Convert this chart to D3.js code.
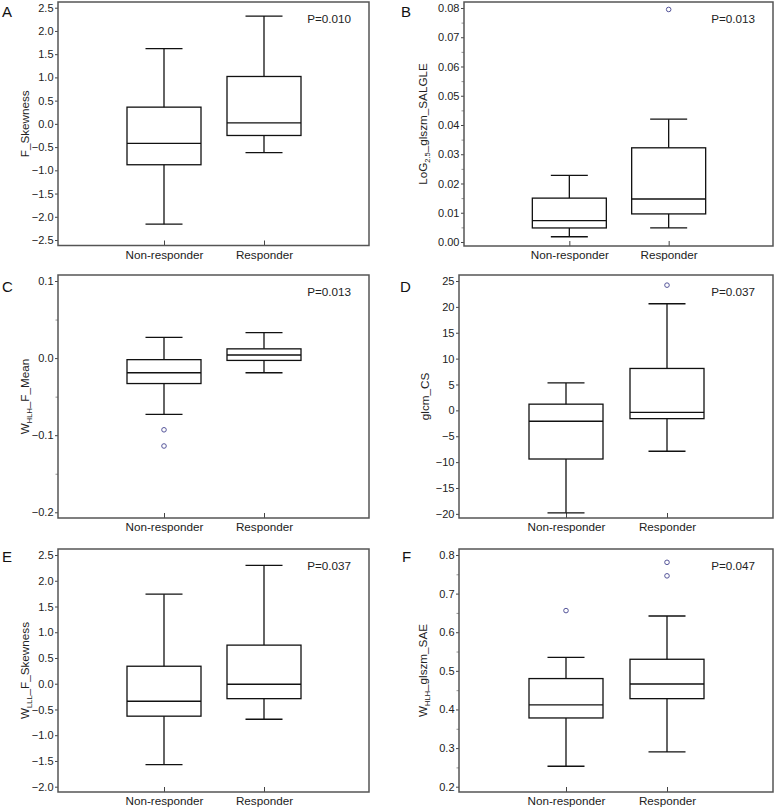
<!DOCTYPE html>
<html><head><meta charset="utf-8">
<script src="https://cdn.jsdelivr.net/npm/d3@7"></script>
<style>body{margin:0;background:#fff}svg{display:block}</style>
</head><body>
<svg id="chart" width="775" height="809"></svg>
<script>
// ---- data ----
const categories = ["Non-responder", "Responder"];
const panelLetters = ["A", "B", "C", "D", "E", "F"];
const pLabels = ["P=0.010", "P=0.013", "P=0.013", "P=0.037", "P=0.037", "P=0.047"];
// y-axis titles: [prefix, subscript, suffix]
const yTitleA = ["F_Skewness", "", ""];
const yTitleB = ["LoG", "2.5", "_glszm_SALGLE"];
const yTitleC = ["W", "HLH", "_F_Mean"];
const yTitleD = ["glcm_CS", "", ""];
const yTitleE = ["W", "LLL", "_F_Skewness"];
const yTitleF = ["W", "HLH", "_glszm_SAE"];
// box stats per category: [lower whisker, Q1, median, Q3, upper whisker]
const statsA = [[-2.16, -0.88, -0.42, 0.36, 1.62], [-0.62, -0.25, 0.02, 1.02, 2.32]];
const statsB = [[0.0018, 0.0048, 0.0073, 0.0150, 0.0228], [0.0048, 0.0096, 0.0147, 0.0322, 0.0420]];
const statsC = [[-0.073, -0.033, -0.019, -0.002, 0.027], [-0.019, -0.003, 0.004, 0.012, 0.033]];
const statsD = [[-19.8, -9.4, -2.1, 1.2, 5.3], [-7.9, -1.6, -0.4, 8.1, 20.6]];
const statsE = [[-1.57, -0.63, -0.34, 0.34, 1.74], [-0.69, -0.29, -0.01, 0.75, 2.30]];
const statsF = [[0.253, 0.378, 0.412, 0.480, 0.535], [0.290, 0.428, 0.466, 0.530, 0.642]];
// outliers per category
const outA = [[], []];
const outB = [[], [0.0795]];
const outC = [[-0.093, -0.114], []];
const outD = [[], [24.2]];
const outE = [[], []];
const outF = [[0.656], [0.746, 0.781]];
// ticks
const ticksA = [-2.5, -2.0, -1.5, -1.0, -0.5, 0.0, 0.5, 1.0, 1.5, 2.0, 2.5];
const ticksB = [0.00, 0.01, 0.02, 0.03, 0.04, 0.05, 0.06, 0.07, 0.08];
const minorB = [0.005, 0.015, 0.025, 0.035, 0.045, 0.055, 0.065, 0.075];
const ticksC = [-0.2, -0.1, 0.0, 0.1];
const minorC = [-0.15, -0.05, 0.05];
const ticksD = [-20, -15, -10, -5, 0, 5, 10, 15, 20, 25];
const ticksE = [-2.0, -1.5, -1.0, -0.5, 0.0, 0.5, 1.0, 1.5, 2.0, 2.5];
const ticksF = [0.2, 0.3, 0.4, 0.5, 0.6, 0.7, 0.8];
const minorF = [0.25, 0.35, 0.45, 0.55, 0.65, 0.75];

// ---- layout (positions/styles) ----
const panels = [
  {frame: [58, 369, 2, 245.5], domain: [-2.618, 2.623], fmt: ".1f", stats: statsA, out: outA, ticks: ticksA, minor: [], title: yTitleA, titleX: 28.5, letterPos: [2, 17]},
  {frame: [464, 773, 2, 246], domain: [-0.00137, 0.08205], fmt: ".2f", stats: statsB, out: outB, ticks: ticksB, minor: minorB, title: yTitleB, titleX: 427, letterPos: [401, 17]},
  {frame: [58, 369, 275, 518], domain: [-0.2074, 0.1078], fmt: ".1f", stats: statsC, out: outC, ticks: ticksC, minor: minorC, title: yTitleC, titleX: 29, letterPos: [2, 292]},
  {frame: [459, 773, 275, 518], domain: [-20.8, 26.16], fmt: "d", stats: statsD, out: outD, ticks: ticksD, minor: [], title: yTitleD, titleX: 429, letterPos: [400, 292]},
  {frame: [58, 369, 549, 792], domain: [-2.103, 2.617], fmt: ".1f", stats: statsE, out: outE, ticks: ticksE, minor: [], title: yTitleE, titleX: 28.5, letterPos: [2, 562]},
  {frame: [459, 773, 549, 792], domain: [0.1863, 0.8155], fmt: ".1f", stats: statsF, out: outF, ticks: ticksF, minor: minorF, title: yTitleF, titleX: 427, letterPos: [402, 562]}
];

const FONT = "'Liberation Sans', Arial, Helvetica, sans-serif";
const svg = d3.select("#chart");

panels.forEach((p, i) => {
  const [x0, x1, y0, y1] = p.frame;
  const y = d3.scaleLinear().domain(p.domain).range([y1, y0]);
  const x = d3.scalePoint().domain(categories).range([x0 + 6, x1 - 5]).padding(1);
  const g = svg.append("g");

  // y axis
  const yAxis = d3.axisLeft(y).tickValues(p.ticks).tickFormat(d3.format(p.fmt)).tickSize(3).tickPadding(1.5);
  const ya = g.append("g").attr("transform", `translate(${x0},0)`).call(yAxis);
  ya.select(".domain").remove();
  ya.selectAll(".tick line").attr("stroke", "#444").attr("stroke-width", 1);
  ya.selectAll(".tick text").attr("font-family", FONT).attr("font-size", "11px").attr("fill", "#222");
  if (p.minor.length) {
    const ym = d3.axisLeft(y).tickValues(p.minor).tickFormat("").tickSize(2.5);
    const yma = g.append("g").attr("transform", `translate(${x0},0)`).call(ym);
    yma.select(".domain").remove();
    yma.selectAll(".tick line").attr("stroke", "#777").attr("stroke-width", 0.8);
  }

  // x axis: inward ticks and labels
  const xAxis = d3.axisBottom(x).tickSize(-5).tickPadding(5);
  const xa = g.append("g").attr("transform", `translate(0,${y1})`).call(xAxis);
  xa.select(".domain").remove();
  xa.selectAll(".tick line").attr("stroke", "#444").attr("stroke-width", 1);
  xa.selectAll(".tick text").attr("font-family", FONT).attr("font-size", "11.7px").attr("fill", "#222");

  // boxes
  const bw = 74, cw = 37;
  categories.forEach((c, j) => {
    const [lo, q1, md, q3, hi] = p.stats[j];
    const cx = x(c);
    const bg = g.append("g").attr("stroke", "#111").attr("stroke-width", 1.3).attr("fill", "none");
    bg.append("line").attr("x1", cx).attr("x2", cx).attr("y1", y(hi)).attr("y2", y(q3));
    bg.append("line").attr("x1", cx).attr("x2", cx).attr("y1", y(q1)).attr("y2", y(lo));
    bg.append("line").attr("x1", cx - cw / 2).attr("x2", cx + cw / 2).attr("y1", y(hi)).attr("y2", y(hi));
    bg.append("line").attr("x1", cx - cw / 2).attr("x2", cx + cw / 2).attr("y1", y(lo)).attr("y2", y(lo));
    bg.append("rect").attr("x", cx - bw / 2).attr("width", bw).attr("y", y(q3)).attr("height", y(q1) - y(q3));
    bg.append("line").attr("x1", cx - bw / 2).attr("x2", cx + bw / 2).attr("y1", y(md)).attr("y2", y(md));
    g.selectAll(null).data(p.out[j]).enter().append("circle")
      .attr("cx", cx).attr("cy", d => y(d)).attr("r", 2.3)
      .attr("fill", "none").attr("stroke", "#55559a").attr("stroke-width", 1);
  });

  // frame
  g.append("rect").attr("x", x0).attr("y", y0).attr("width", x1 - x0).attr("height", y1 - y0)
    .attr("fill", "none").attr("stroke", "#555").attr("stroke-width", 1.5);

  // P value
  g.append("text").attr("x", x1 - 18).attr("y", y0 + 21).attr("text-anchor", "end")
    .attr("font-family", FONT).attr("font-size", "11.7px").attr("fill", "#222").text(pLabels[i]);

  // panel letter
  g.append("text").attr("x", p.letterPos[0]).attr("y", p.letterPos[1])
    .attr("font-family", FONT).attr("font-size", "15px").attr("fill", "#111").text(panelLetters[i]);

  // y title
  const cy = (y0 + y1) / 2;
  const t = g.append("text").attr("transform", `translate(${p.titleX},${cy}) rotate(-90)`)
    .attr("text-anchor", "middle").attr("font-family", FONT).attr("font-size", "11.7px").attr("fill", "#222");
  t.append("tspan").text(p.title[0]);
  if (p.title[1]) {
    t.append("tspan").attr("font-size", "7.5px").attr("dy", "3").text(p.title[1]);
    t.append("tspan").attr("dy", "-3").text(p.title[2]);
  }
});
</script>
</body></html>
